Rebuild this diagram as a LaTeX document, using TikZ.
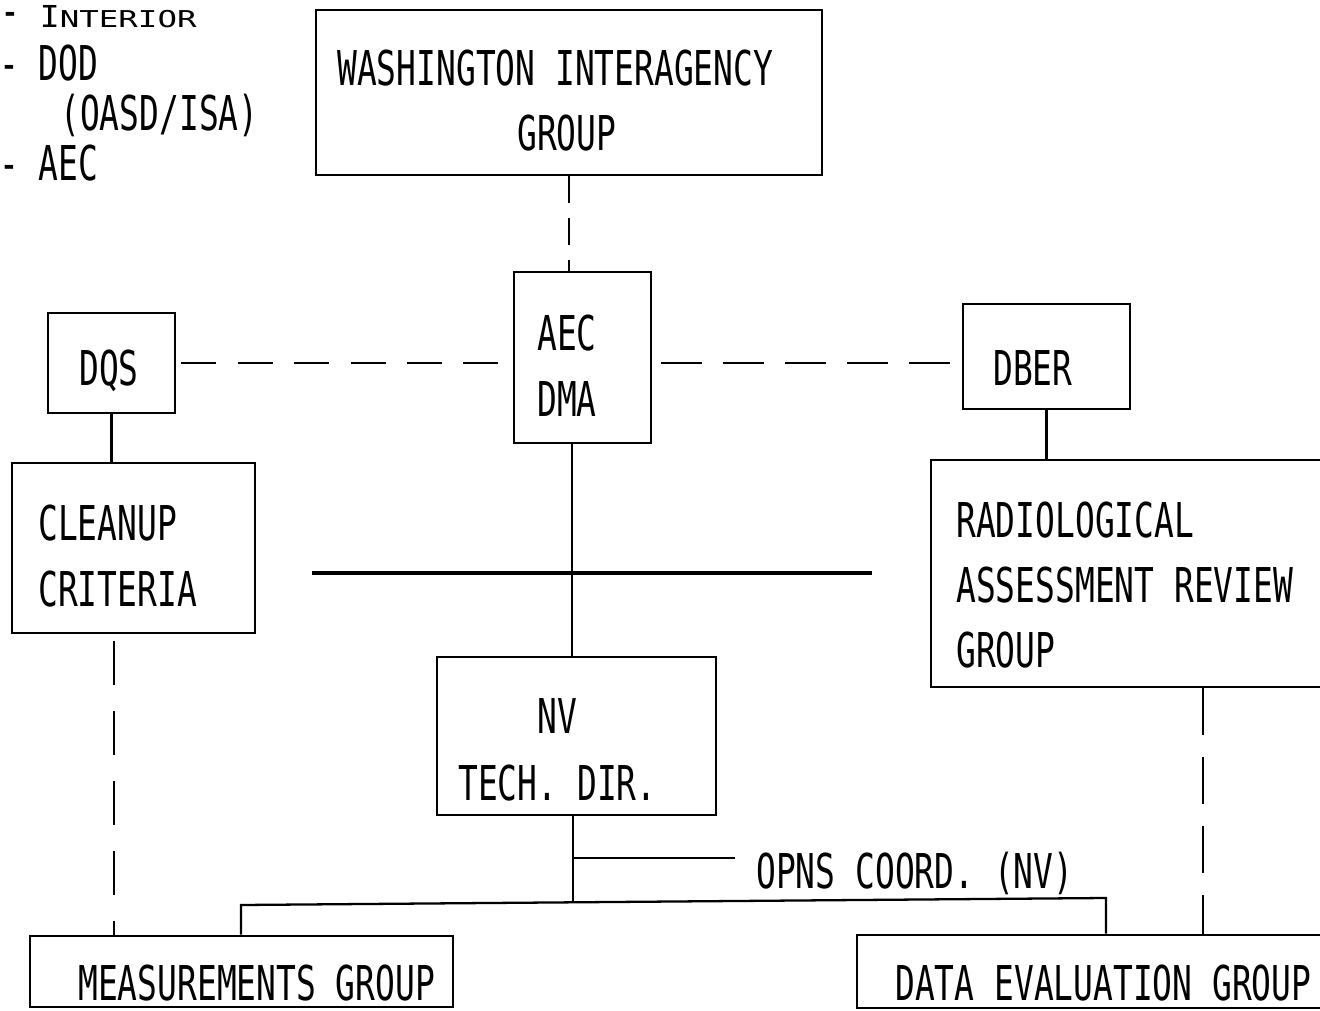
\documentclass[tikz,border=0pt]{standalone}
\usepackage{fontspec}
\usetikzlibrary{fit}
\newfontfamily\tw[FakeStretch=0.686]{DejaVu Sans Mono}
\newfontfamily\twmid[FakeStretch=1.09]{DejaVu Sans Mono}
\newfontfamily\twwide[FakeStretch=1.4]{DejaVu Sans Mono}
\begin{document}
\begin{tikzpicture}[x=0.02cm,y=-0.02cm,
  box/.style={draw, line width=1.6pt, inner sep=0pt},
  txt/.style={font={\tw\fontsize{27.3}{37}\selectfont}, anchor=base west, inner sep=0pt},
  conn/.style={line width=1.3pt},
  thickline/.style={line width=2.6pt},
  dashdq/.style={line width=1.5pt, dash pattern=on 0.7cm off 0.428cm, dash phase=-0.1cm},
  dashdb/.style={line width=1.5pt, dash pattern=on 0.82cm off 0.42cm, dash phase=-0.18cm},
  dashvs/.style={line width=1.3pt, dash pattern=on 0.54cm off 0.3cm},
  dashvl/.style={line width=1.3pt, dash pattern=on 0.88cm off 0.52cm, dash phase=-0.14cm},
  dashvr/.style={line width=1.3pt, dash pattern=on 0.94cm off 0.44cm}]
\useasboundingbox (0,0) rectangle (1320,1011);

% boxes
\node[box, fit={(316,10) (822,175)}] (wig) {};
\node[box, fit={(514,272) (651,443)}] (aec) {};
\node[box, fit={(48,313) (175,413)}] (dqs) {};
\node[box, fit={(963,304) (1130,409)}] (dber) {};
\node[box, fit={(12,463) (255,633)}] (clean) {};
\node[box, fit={(931,460) (1340,687)}] (rad) {};
\node[box, fit={(437,657) (716,815)}] (nv) {};
\node[box, fit={(30,936) (453,1007)}] (meas) {};
\node[box, fit={(857,935) (1340,1008)}] (data) {};

% left list
\node[txt] (l1) at (0,27) {- {\twmid\fontsize{17.2}{20}\selectfont I}{\twwide\fontsize{13.2}{15}\selectfont NTERIOR}};
\node[txt] (l2) at (-1,80) {- DOD};
\node[txt] (l3) at (60,130) {(OASD/ISA)};
\node[txt] (l4) at (-1,180) {- AEC};

% box texts
\node[txt] (t1) at (337,85) {WASHINGTON INTERAGENCY};
\node[txt] (t2) at (517,150) {GROUP};
\node[txt] (t3) at (537,350) {AEC};
\node[txt] (t4) at (537,416) {DMA};
\node[txt] (t5) at (79,385) {DQS};
\node[txt] (t6) at (993,385) {DBER};
\node[txt] (t7) at (38,540) {CLEANUP};
\node[txt] (t8) at (38,606) {CRITERIA};
\node[txt] (t9) at (956,537) {RADIOLOGICAL};
\node[txt] (t10) at (956,602) {ASSESSMENT REVIEW};
\node[txt] (t11) at (956,667) {GROUP};
\node[txt] (t12) at (537,733) {NV};
\node[txt] (t13) at (458,800) {TECH. DIR.};
\node[txt] (opns) at (756,888) {OPNS COORD. (NV)};
\node[txt] (t15) at (78,1000) {MEASUREMENTS GROUP};
\node[txt] (t16) at (895,1000) {DATA EVALUATION GROUP};

% helper coordinates
\coordinate (trunk) at (572,0);
\coordinate (jn) at (573,902);
\coordinate (op) at (573,858);
\coordinate (bl) at (241,905);
\coordinate (br) at (1106,898);
\coordinate (hl) at (312,573);
\coordinate (hr) at (872,573);
\coordinate (cx) at (114,0);
\coordinate (rx) at (1203,0);

% connectors
\draw[dashvs] (wig.south) -- (wig.south |- aec.north);
\draw[dashdq] (dqs.east) -- (dqs.east -| aec.west);
\draw[dashdb] (dqs.east -| aec.east) -- (dqs.east -| dber.west);
\draw[conn] (dqs.south) -- (dqs.south |- clean.north);
\draw[conn] (dber.south) -- (dber.south |- rad.north);
\draw[conn] (aec.south -| trunk) -- (nv.north -| trunk);
\draw[thickline] (hl) -- (hr);
\draw[conn] (nv.south -| jn) -- (jn);
\draw[conn] (op) -- ([xshift=-0.42cm]op -| opns.west);
\draw[conn] (bl |- meas.north) -- (bl) -- (br) -- (br |- data.north);
\draw[dashvl] (clean.south -| cx) -- (meas.north -| cx);
\draw[dashvr] (rad.south -| rx) -- (data.north -| rx);
\end{tikzpicture}
\end{document}
